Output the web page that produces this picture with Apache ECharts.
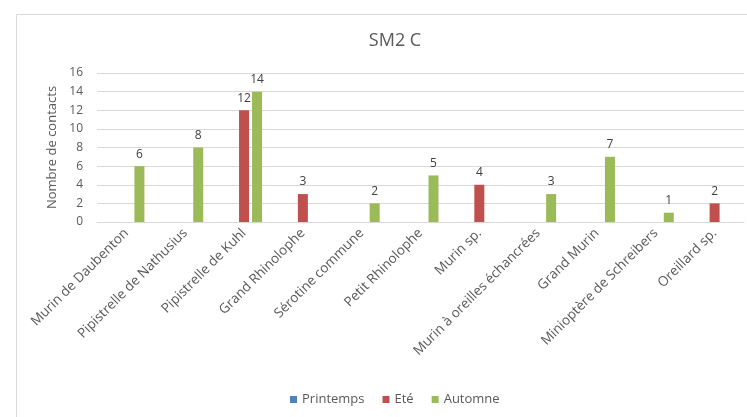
<!DOCTYPE html>
<html>
<head>
<meta charset="utf-8">
<script src="https://cdn.jsdelivr.net/npm/echarts@6/dist/echarts.min.js"></script>
<style>
  html, body { margin: 0; padding: 0; background: #fff; }
  #chart { width: 747px; height: 417px; }
</style>
</head>
<body>
<div id="chart"></div>
<script>
// Species recorded at station SM2 C
const categories = [
  'Murin de Daubenton',
  'Pipistrelle de Nathusius',
  'Pipistrelle de Kuhl',
  'Grand Rhinolophe',
  'Sérotine commune',
  'Petit Rhinolophe',
  'Murin sp.',
  'Murin à oreilles échancrées',
  'Grand Murin',
  'Minioptère de Schreibers',
  'Oreillard sp.'
];
// Contacts per season (null = no contact)
const printemps = [null, null, null, null, null, null, null, null, null, null, null];
const ete       = [null, null, 12, 3, null, null, 4, null, null, null, 2];
const automne   = [6, 8, 14, null, 2, 5, null, 3, 7, 1, null];
const yTicks = { min: 0, max: 16, interval: 2 };

const textColor = '#595959';
const fontFam = '"Open Sans", "Liberation Sans", sans-serif';

const chart = echarts.init(document.getElementById('chart'));

function barSeries(name, data, color) {
  return {
    name: name,
    type: 'bar',
    data: data,
    barWidth: 10,
    barGap: '30%',
    itemStyle: { color: color },
    label: {
      show: true,
      position: 'top',
      distance: 6,
      color: '#404040',
      fontFamily: fontFam,
      fontSize: 12
    }
  };
}

chart.setOption({
  backgroundColor: '#fff',
  animation: false,
  graphic: [{
    type: 'rect',
    shape: { x: 16.5, y: 14.5, width: 740, height: 420 },
    style: { fill: 'none', stroke: '#d9d9d9', lineWidth: 1 },
    silent: true
  }],
  title: {
    text: 'SM2 C',
    left: 390,
    top: 27,
    textAlign: 'center',
    textStyle: { color: textColor, fontFamily: fontFam, fontSize: 18, fontWeight: 'normal' }
  },
  legend: {
    bottom: 6,
    left: 285,
    itemWidth: 7,
    itemHeight: 7,
    itemGap: 18,
    icon: 'rect',
    textStyle: { color: textColor, fontFamily: fontFam, fontSize: 13 },
    data: ['Printemps', 'Eté', 'Automne']
  },
  grid: { left: 97, right: 3, top: 73, bottom: 195 },
  xAxis: {
    type: 'category',
    data: categories,
    axisLine: { lineStyle: { color: '#d9d9d9' } },
    axisTick: { show: false },
    axisLabel: {
      rotate: 45,
      interval: 0,
      margin: 9,
      color: textColor,
      fontFamily: fontFam,
      fontSize: 13.5
    }
  },
  yAxis: {
    type: 'value',
    min: yTicks.min,
    max: yTicks.max,
    interval: yTicks.interval,
    name: 'Nombre de contacts',
    nameLocation: 'middle',
    nameGap: 37,
    nameTextStyle: { color: textColor, fontFamily: fontFam, fontSize: 13 },
    axisLine: { show: false },
    axisTick: { show: false },
    axisLabel: { color: textColor, fontFamily: fontFam, fontSize: 12, margin: 14 },
    splitLine: { lineStyle: { color: '#d9d9d9' } }
  },
  series: [
    barSeries('Printemps', printemps, '#4f81bd'),
    barSeries('Eté', ete, '#c0504d'),
    barSeries('Automne', automne, '#9bbb59')
  ]
});
</script>
</body>
</html>
